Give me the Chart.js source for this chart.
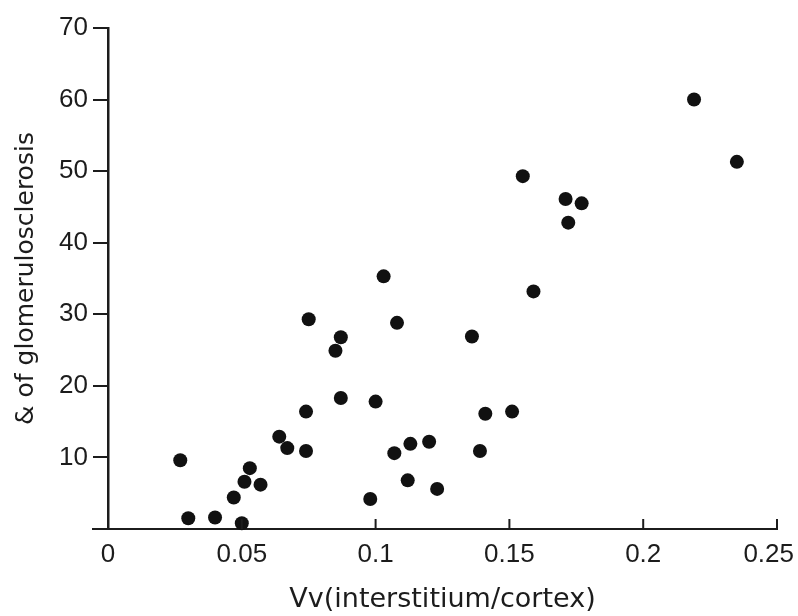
<!DOCTYPE html>
<html>
<head>
<meta charset="utf-8">
<title>Glomerulosclerosis vs Vv</title>
<script src="https://cdn.jsdelivr.net/npm/chart.js"></script>
<style>
  html, body { margin:0; padding:0; background:#fff; }
</style>
</head>
<body>
<canvas id="chart" width="798" height="616"></canvas>
<script>
// valeurs
const vvInterstitium = [
  0.027, 0.030, 0.040, 0.050, 0.047, 0.051, 0.057, 0.053, 0.064, 0.067,
  0.075, 0.087, 0.085, 0.087, 0.100, 0.074, 0.074, 0.103, 0.108, 0.136,
  0.141, 0.113, 0.120, 0.107, 0.139, 0.112, 0.123, 0.098, 0.155, 0.171,
  0.177, 0.172, 0.159, 0.151, 0.219, 0.235
];
const glomeruloPct = [
  9.6, 1.5, 1.6, 0.8, 4.4, 6.6, 6.2, 8.5, 12.9, 11.3,
  29.3, 26.8, 24.9, 18.3, 17.8, 16.4, 10.9, 35.3, 28.8, 26.9,
  16.1, 11.9, 12.2, 10.6, 10.9, 6.8, 5.6, 4.2, 49.3, 46.1,
  45.5, 42.8, 33.2, 16.4, 60.0, 51.3
];
const xTicks = [0, 0.05, 0.1, 0.15, 0.2, 0.25];
const xTickLabels = ["0", "0.05", "0.1", "0.15", "0.2", "0.25"];
const yTicks = [0, 10, 20, 30, 40, 50, 60, 70];
const xTitle = "Vv(interstitium/cortex)";
const yTitle = "& of glomerulosclerosis";

const ink = "#1c1c1c";
const tickFont = { family: "'Liberation Sans', Arial, sans-serif", size: 26 };

// graduations de l'axe x vers l'intérieur + libellés + petit bout d'axe à gauche
const axisDecor = {
  id: "axisDecor",
  afterDraw(chart) {
    const { ctx, chartArea: a, scales: { x } } = chart;
    ctx.save();
    ctx.strokeStyle = ink;
    ctx.lineWidth = 2;
    ctx.beginPath();
    ctx.moveTo(a.left - 16, a.bottom);
    ctx.lineTo(a.left, a.bottom);
    ctx.stroke();
    ctx.font = tickFont.size + "px " + tickFont.family;
    ctx.fillStyle = ink;
    ctx.textAlign = "center";
    ctx.textBaseline = "top";
    xTicks.forEach((v, i) => {
      const px = x.getPixelForValue(v);
      if (v > 0) {
        ctx.beginPath();
        ctx.moveTo(px, a.bottom);
        ctx.lineTo(px, a.bottom - 10);
        ctx.stroke();
      }
      const w = ctx.measureText(xTickLabels[i]).width;
      const cx = Math.min(Math.max(px, w / 2 + 2), chart.width - 4 - w / 2);
      ctx.fillText(xTickLabels[i], cx, a.bottom + 13);
    });
    ctx.restore();
  }
};

new Chart(document.getElementById("chart"), {
  type: "scatter",
  data: {
    datasets: [{
      data: vvInterstitium.map((v, i) => ({ x: v, y: glomeruloPct[i] })),
      backgroundColor: "#111",
      borderWidth: 0,
      pointRadius: 7,
      pointHoverRadius: 7,
      clip: false
    }]
  },
  options: {
    responsive: false,
    animation: false,
    devicePixelRatio: 1,
    layout: { padding: { top: 28, right: 21, left: 0, bottom: 0 } },
    plugins: { legend: { display: false }, tooltip: { enabled: false } },
    events: [],
    scales: {
      x: {
        type: "linear",
        min: 0,
        max: 0.25,
        afterBuildTicks: s => { s.ticks = xTicks.map(v => ({ value: v })); },
        ticks: { display: false },
        grid: { display: true, drawOnChartArea: false, drawTicks: false, color: ink },
        border: { color: ink, width: 2 },
        title: {
          display: true,
          text: xTitle,
          color: ink,
          font: { family: "'DejaVu Sans', sans-serif", size: 27 },
          padding: { top: 0, bottom: 0 }
        },
        afterFit: s => { s.height = 87; }
      },
      y: {
        type: "linear",
        min: 0,
        max: 70,
        afterBuildTicks: s => { s.ticks = yTicks.map(v => ({ value: v })); },
        ticks: {
          color: ink,
          font: tickFont,
          padding: 5,
          callback: v => (v === 0 ? "" : String(v))
        },
        grid: { drawOnChartArea: false, drawTicks: true, tickLength: 15, color: ink, lineWidth: 2 },
        border: { color: ink, width: 2.5 },
        title: {
          display: true,
          text: yTitle,
          color: ink,
          font: { family: "'DejaVu Sans', sans-serif", size: 25 },
          padding: { top: 11, bottom: 0 }
        },
        afterFit: s => { s.width = 108; }
      }
    }
  },
  plugins: [axisDecor]
});
</script>
</body>
</html>
